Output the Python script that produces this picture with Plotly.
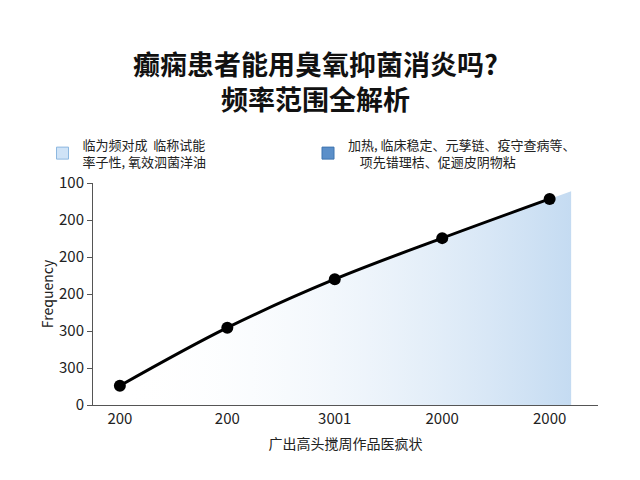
import plotly.graph_objects as go

# x categories (positions) and the labels printed under them
x_pos = [0, 1, 2, 3, 4]
x_labels = ["200", "200", "3001", "2000", "2000"]
# curve values on the axis scale 0..6
y_vals = [0.52, 2.09, 3.40, 4.51, 5.57]
y_tickvals = [0, 1, 2, 3, 4, 5, 6]
y_labels = ["0", "300", "300", "200", "200", "200", "100"]
# shaded area behind the curve, runs a little past the last point
area_x = [0, 1, 2, 3, 4, 4.2]
area_y = [0.52, 2.09, 3.40, 4.51, 5.57, 5.78]

legend_a = "临为频对成  临称试能<br>率子性, 氧效泗菌洋油"
legend_b = "加热, 临床稳定、元孳链、疫守查病等、喷代透<br>    项先错理桔、促逦皮阴物粘"

fig = go.Figure()
fig.add_trace(go.Scatter(
    x=area_x, y=area_y, mode="lines", line=dict(width=0),
    fill="tozeroy",
    fillgradient=dict(type="horizontal",
                      colorscale=[[0, "rgba(255,255,255,0)"], [1, "rgba(190,215,240,0.9)"]]),
    showlegend=False, hoverinfo="skip"))
fig.add_trace(go.Scatter(
    x=x_pos, y=y_vals, mode="lines+markers", line=dict(color="black", width=3, shape="spline"),
    marker=dict(color="black", size=12), showlegend=False))
# legend entries
fig.add_trace(go.Bar(x=[None], y=[None], name=legend_a,
                     marker=dict(color="#cfe3f7", line=dict(color="#8db8e0", width=1))))
fig.add_trace(go.Bar(x=[None], y=[None], name=legend_b,
                     marker=dict(color="#5b8fc9", line=dict(color="#3f74b0", width=1))))

fig.add_annotation(text="<b>癫痫患者能用臭氧抑菌消炎吗?<br>频率范围全解析</b>",
                   xref="paper", yref="paper", x=0.44, y=1.46, xanchor="center", yanchor="middle",
                   showarrow=False, font=dict(size=27, color="#111"))

fig.update_layout(
    width=640, height=480, paper_bgcolor="white", plot_bgcolor="white",
    font=dict(family="Noto Sans CJK SC", color="#222"),
    legend=dict(orientation="h", x=-0.1, y=1.24, xanchor="left", yanchor="top",
                font=dict(size=13), entrywidth=0.45, entrywidthmode="fraction"),
    margin=dict(l=85, r=50, t=175, b=83),
    xaxis=dict(tickvals=x_pos, ticktext=x_labels, range=[-0.25, 4.45],
               showline=True, linecolor="#555", showgrid=False, ticks="",
               tickfont=dict(size=15),
               title=dict(text="广出高头搅周作品医疯状", font=dict(size=14), standoff=12)),
    yaxis=dict(tickvals=y_tickvals, ticktext=y_labels, range=[0, 6],
               showline=True, linecolor="#555", showgrid=False, ticks="outside",
               ticklen=5, tickcolor="#555", tickfont=dict(size=15), zeroline=False,
               title=dict(text="Frequency", font=dict(size=14), standoff=2)),
)
fig.write_html("out.html")
